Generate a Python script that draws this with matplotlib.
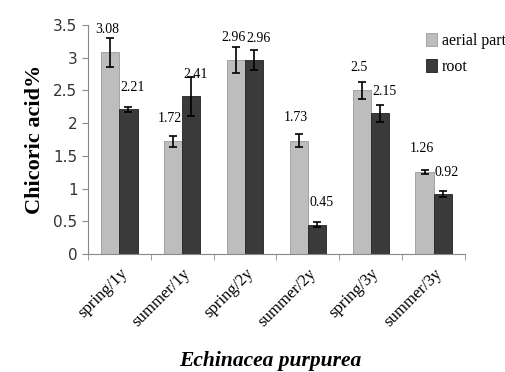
import matplotlib
matplotlib.use("Agg")
import matplotlib.pyplot as plt
import numpy as np

categories = ["spring/1y", "summer/1y", "spring/2y", "summer/2y", "spring/3y", "summer/3y"]
aerial = [3.08, 1.72, 2.96, 1.73, 2.5, 1.26]
root = [2.21, 2.41, 2.96, 0.45, 2.15, 0.92]
aerial_err = [0.22, 0.09, 0.20, 0.10, 0.13, 0.03]
root_err = [0.04, 0.30, 0.15, 0.04, 0.13, 0.05]

serif = "Liberation Serif"

fig = plt.figure(figsize=(5.05, 3.72), dpi=100)
ax = fig.add_axes([0.174, 0.317, 0.747, 0.616])

x = np.arange(len(categories))
w = 0.29
b1 = ax.bar(x - w / 2, aerial, w, color="#bdbdbd", edgecolor="#9a9a9a", linewidth=0.6,
            yerr=aerial_err, capsize=3, error_kw=dict(elinewidth=1.2, capthick=1.2, ecolor="black"),
            label="aerial part")
b2 = ax.bar(x + w / 2, root, w, color="#3a3a3a", edgecolor="#222222", linewidth=0.6,
            yerr=root_err, capsize=3, error_kw=dict(elinewidth=1.2, capthick=1.2, ecolor="black"),
            label="root")

for xi, v in zip(x - w / 2, aerial):
    ax.annotate(f"{v:g}", (xi, v), xytext=(-2, 12), textcoords="offset points",
                ha="center", va="bottom", fontsize=10, family=serif)
for xi, v in zip(x + w / 2, root):
    ax.annotate(f"{v:g}", (xi, v), xytext=(3, 11), textcoords="offset points",
                ha="center", va="bottom", fontsize=10, family=serif)

ax.set_xlim(-0.5, len(categories) - 0.5)
ax.set_ylim(0, 3.5)
ax.set_yticks(np.arange(0, 3.51, 0.5))
ax.set_yticklabels([f"{t:g}" for t in np.arange(0, 3.51, 0.5)], fontsize=11, color="#333333")
ax.set_xticks(x)
ax.set_xticklabels(categories, rotation=45, ha="right", rotation_mode="anchor",
                   fontsize=12, family=serif)
ax.tick_params(axis="x", length=0, pad=8)
ax.set_xticks(np.arange(-0.5, len(categories), 1), minor=True)
ax.tick_params(axis="x", which="minor", length=4, color="#888888")
ax.tick_params(axis="y", length=4, color="#888888")

for s in ["top", "right"]:
    ax.spines[s].set_visible(False)
ax.spines["left"].set_color("#888888")
ax.spines["bottom"].set_color("#888888")

ax.set_ylabel("Chicoric acid%", fontsize=16, fontweight="bold", family=serif, labelpad=6)
fig.text(0.535, 0.03, "Echinacea purpurea", ha="center", va="center", fontsize=15.5,
         fontweight="bold", style="italic", family=serif)

fig.legend(handles=[b1, b2], labels=["aerial part", "root"], loc="upper left",
           bbox_to_anchor=(0.815, 0.95), frameon=False, prop=dict(family=serif, size=11.5),
           handlelength=0.7, handleheight=0.9, handletextpad=0.3, labelspacing=0.6)

fig.savefig("out.png", dpi=100)
